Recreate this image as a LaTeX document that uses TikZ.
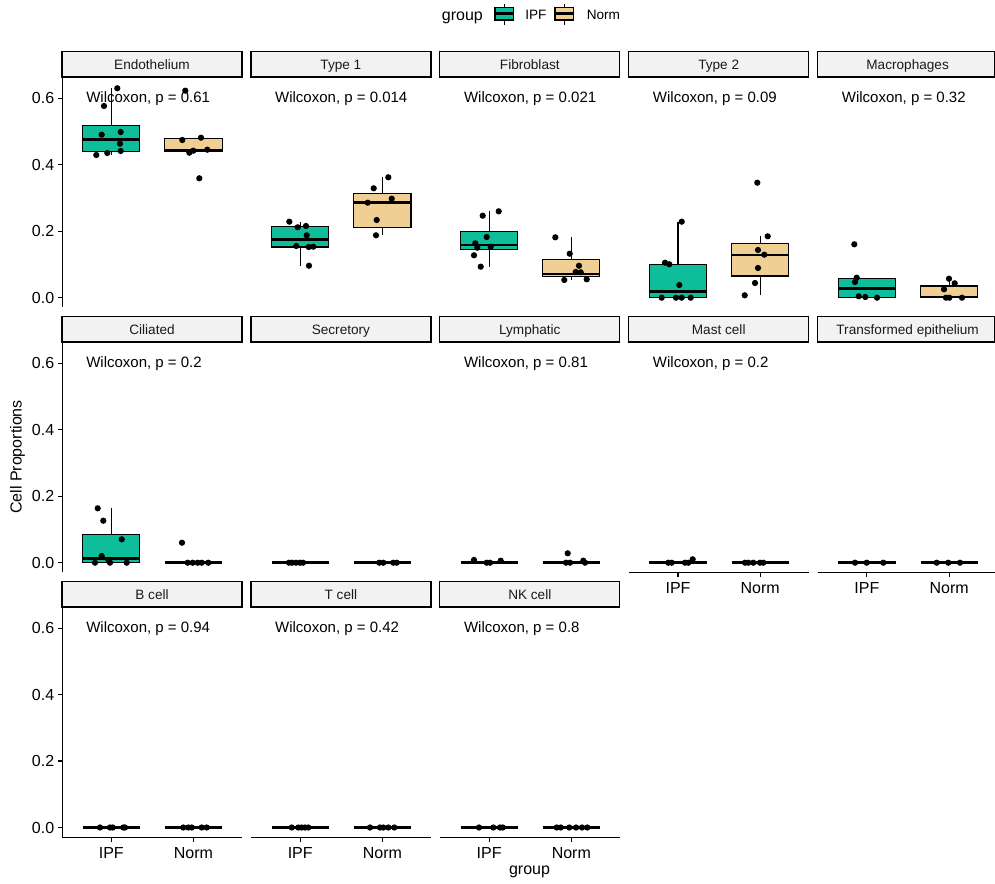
\documentclass[tikz,border=0pt]{standalone}
\usepackage{fontspec}
\setmainfont{Liberation Sans}
\definecolor{ipf}{RGB}{14,190,155}
\definecolor{norm}{RGB}{239,207,148}
\definecolor{stripbg}{RGB}{242,242,242}
\definecolor{striptx}{RGB}{26,26,26}

% full box: centre x, upper hinge, lower hinge, median, upper whisker end, lower whisker end, fill
\newcommand\bxfull[7]{%
  \draw[whisk] (#1,#2) -- (#1,#5);
  \draw[whisk] (#1,#3) -- (#1,#6);
  \draw[boxln, fill=#7] (#1-28.6,#2) rectangle (#1+28.6,#3);
  \draw[medln] (#1-28.6,#4) -- (#1+28.6,#4);}
% box collapsed onto a single value
\newcommand\bxflat[2]{\draw[flatln] (#1-28.6,#2) -- (#1+28.6,#2);}
% jittered observations
\newcommand\plotpts[1]{\foreach \p in {#1} \fill \p circle[radius=2.35pt];}
\newcommand\rowpts[2]{\foreach \xx in {#2} \fill (\xx,#1) circle[radius=2.35pt];}

\begin{document}
\begin{tikzpicture}[x=0.75pt,y=-0.75pt,
  strip/.style={draw=black, line width=0.9pt, fill=stripbg},
  striptext/.style={font=\fontsize{10.2}{12}\selectfont, text=striptx, inner sep=0pt, anchor=base},
  wil/.style={font=\fontsize{11.25}{13}\selectfont, anchor=base west, inner sep=0pt},
  ticklab/.style={font=\fontsize{12}{14}\selectfont, inner sep=0pt},
  axisln/.style={line width=0.85pt},
  whisk/.style={line width=0.8pt},
  boxln/.style={line width=0.8pt},
  medln/.style={line width=1.9pt},
  flatln/.style={line width=2.6pt},
  legtext/.style={font=\fontsize{10.2}{12}\selectfont, inner sep=0pt, anchor=base west}]
\useasboundingbox (0,0) rectangle (995,884);

% ---- facet strips ----
\foreach \L/\T/\W/\lab [count=\i] in {
  62/51.5/180/Endothelium, 250.9/51.5/180/Type 1, 439.8/51.5/180/Fibroblast,
  628.7/51.5/180/Type 2, 817.6/51.5/176.9/Macrophages,
  62/316.5/180/Ciliated, 250.9/316.5/180/Secretory, 439.8/316.5/180/Lymphatic,
  628.7/316.5/180/Mast cell, 817.6/316.5/176.9/Transformed epithelium,
  62/581.5/180/B cell, 250.9/581.5/180/T cell, 439.8/581.5/180/NK cell}{
  \draw[strip] (\L,\T) rectangle (\L+\W,\T+25.5);
  \node[striptext] (strip\i) at (\L+90,\T+18.2) {\lab};
}

% ---- test labels ----
\foreach \L/\y/\pv [count=\i] in {
  62/102.3/0.61, 250.9/102.3/0.014, 439.8/102.3/0.021, 628.7/102.3/0.09, 817.6/102.3/0.32,
  62/367.3/0.2, 439.8/367.3/0.81, 628.7/367.3/0.2,
  62/632.3/0.94, 250.9/632.3/0.42, 439.8/632.3/0.8}{
  \node[wil] (wil\i) at (\L+24,\y) {Wilcoxon, p = \pv};
}

% ---- y axes (left column) ----
\foreach \T/\z [count=\r] in {51.5/297.7, 316.5/562.7, 581.5/827.5}{
  \draw[axisln] (62.3,\T+25.5) -- (62.3,\T+255.5);
  \foreach \v/\k in {0.0/0, 0.2/1, 0.4/2, 0.6/3}{
    \draw[axisln] (57.8,\z-\k*66.47) -- (62.3,\z-\k*66.47);
    \node[ticklab, anchor=east] (yt\r\k) at (54.5,\z-\k*66.47) {\v};
  }
}

% ---- x axes ----
\foreach \L/\y/\R [count=\i] in {62/837.3/242, 250.9/837.3/430.9, 439.8/837.3/619.8,
  628.7/572.5/808.7, 817.6/572.5/995}{
  \draw[axisln] (\L,\y) -- (\R,\y);
  \draw[axisln] (\L+49.3,\y) -- (\L+49.3,\y+4.5);
  \draw[axisln] (\L+131.5,\y) -- (\L+131.5,\y+4.5);
  \node[ticklab] (xa\i) at (\L+49.3,\y+15.3) {IPF};
  \node[ticklab] (xb\i) at (\L+131.5,\y+15.3) {Norm};
}

% ---- row 1 ----
\bxfull{111.3}{125.3}{151.7}{139.3}{88.3}{155}{ipf}
\bxfull{193.5}{138.7}{151.7}{150}{137.7}{152.7}{norm}
\plotpts{(117.3,88.3),(104,106),(101.7,134.7),(120.7,132),(120,143.7),(120.7,151),(107.3,153),(96.3,155)}
\plotpts{(185.3,90.7),(182.3,140),(201,137.7),(189.3,152.7),(193.3,150.7),(207.3,149.7),(199.3,178.3)}

\bxfull{300.2}{226.7}{247}{239.7}{221.7}{265.7}{ipf}
\bxfull{382.4}{193.3}{227.7}{202.3}{177.3}{235.3}{norm}
\plotpts{(289.3,221.7),(297.7,227.3),(306,226),(306.7,235.3),(296.3,246),(308.7,247),(313.3,246.7),(309,265.7)}
\plotpts{(388.3,177.3),(373.7,188.3),(367.7,202.7),(391.7,198.7),(376.7,220),(376,235.3)}

\bxfull{489.1}{231.3}{249.7}{245}{211.3}{266.7}{ipf}
\bxfull{571.3}{259.3}{276.3}{274}{237.3}{280}{norm}
\plotpts{(482.7,215.7),(498.7,211.3),(486.7,237),(475.3,243.3),(477.3,247.7),(490.7,246.7),(474,255.3),(480.7,266.7)}
\plotpts{(555.3,237.3),(569.7,253.7),(579,265.7),(575.7,272),(580.7,272.3),(564.3,280),(586.7,279.3)}

\bxfull{678}{264.3}{297.7}{291.3}{221.7}{297.7}{ipf}
\bxfull{760.2}{243.3}{276}{255}{236.3}{295.3}{norm}
\plotpts{(681.7,221.7),(665,262.7),(669.3,264.3),(679.3,285),(661.7,297.7),(676,297.7),(681.7,297.7),(690.7,297.7)}
\plotpts{(757.3,182.7),(767.7,236.3),(758,250),(764.3,254.7),(758,268),(755,283),(744.7,295.3)}

\bxfull{866.9}{278.7}{297.7}{288.7}{277.7}{297.7}{ipf}
\bxfull{949.1}{286}{297.7}{297}{278.7}{297.7}{norm}
\plotpts{(854.3,244.3),(856.7,277.7),(855,282),(858.7,296.3),(865.3,297),(877,297.7)}
\plotpts{(949,278.7),(954.7,283.3),(944,289.3),(946,297.7),(949.3,297.7),(962,297.7)}

% ---- row 2 ----
\bxfull{111.3}{534.7}{562.7}{558.3}{508.3}{562.7}{ipf}
\bxflat{193.5}{562.7}
\plotpts{(97.7,508.3),(103.3,520.7),(121.7,539.3),(101.7,556),(95,562.7),(108.3,560),(110,562.7),(126.7,562.7)}
\plotpts{(182,542.7)}
\rowpts{562.7}{187.7,192.7,197.7,201.7,208.3}

\bxflat{300.2}{562.7}\bxflat{382.4}{562.7}
\rowpts{562.7}{289,292,296,300,303,379.3,383.3,393.3,396.7}

\bxflat{489.1}{562.7}\bxflat{571.3}{562.7}
\plotpts{(474,560),(500.7,560.7),(567.7,553.3),(583.3,560.7)}
\rowpts{562.7}{486.7,490,566,570,585}

\bxflat{678}{562.7}\bxflat{760.2}{562.7}
\plotpts{(692.7,559.3)}
\rowpts{562.7}{668.3,671.7,685,688.3,745,748.3,753.3,760,763.3}

\bxflat{866.9}{562.7}\bxflat{949.1}{562.7}
\rowpts{562.7}{855,866.7,883.3,936.7,948.3,960}

% ---- row 3 ----
\bxflat{111.3}{827.5}\bxflat{193.5}{827.5}
\rowpts{827.5}{100,110,112.7,123.3,125,183.3,188.3,191.7,201.7,206.7}
\bxflat{300.2}{827.5}\bxflat{382.4}{827.5}
\rowpts{827.5}{291.7,298.3,301.7,305,308.3,370,380,383.3,388.3,394.3}
\bxflat{489.1}{827.5}\bxflat{571.3}{827.5}
\rowpts{827.5}{479,493.3,500,502.7,556.7,560.7,569.3,576,582,587.3}

% ---- axis titles ----
\node[font=\fontsize{12}{14}\selectfont, rotate=90, inner sep=0pt] (ytitle) at (17.5,457) {Cell Proportions};
\node[font=\fontsize{12}{14}\selectfont, anchor=base, inner sep=0pt] (xtitle) at (529.5,874) {group};

% ---- legend ----
\node[font=\fontsize{12}{14}\selectfont, anchor=base west, inner sep=0pt] (legtitle) at (441.7,20.7) {group};
\foreach \kx/\col/\lab/\tx [count=\i] in {495/ipf/IPF/525, 555/norm/Norm/586.5}{
  \draw[whisk] (\kx+9.2,4) -- (\kx+9.2,25);
  \draw[boxln, fill=\col] (\kx,7.3) rectangle (\kx+18.4,20);
  \draw[medln] (\kx,13.7) -- (\kx+18.4,13.7);
  \node[legtext] (leg\i) at (\tx,20) {\lab};
}
\end{tikzpicture}
\end{document}
